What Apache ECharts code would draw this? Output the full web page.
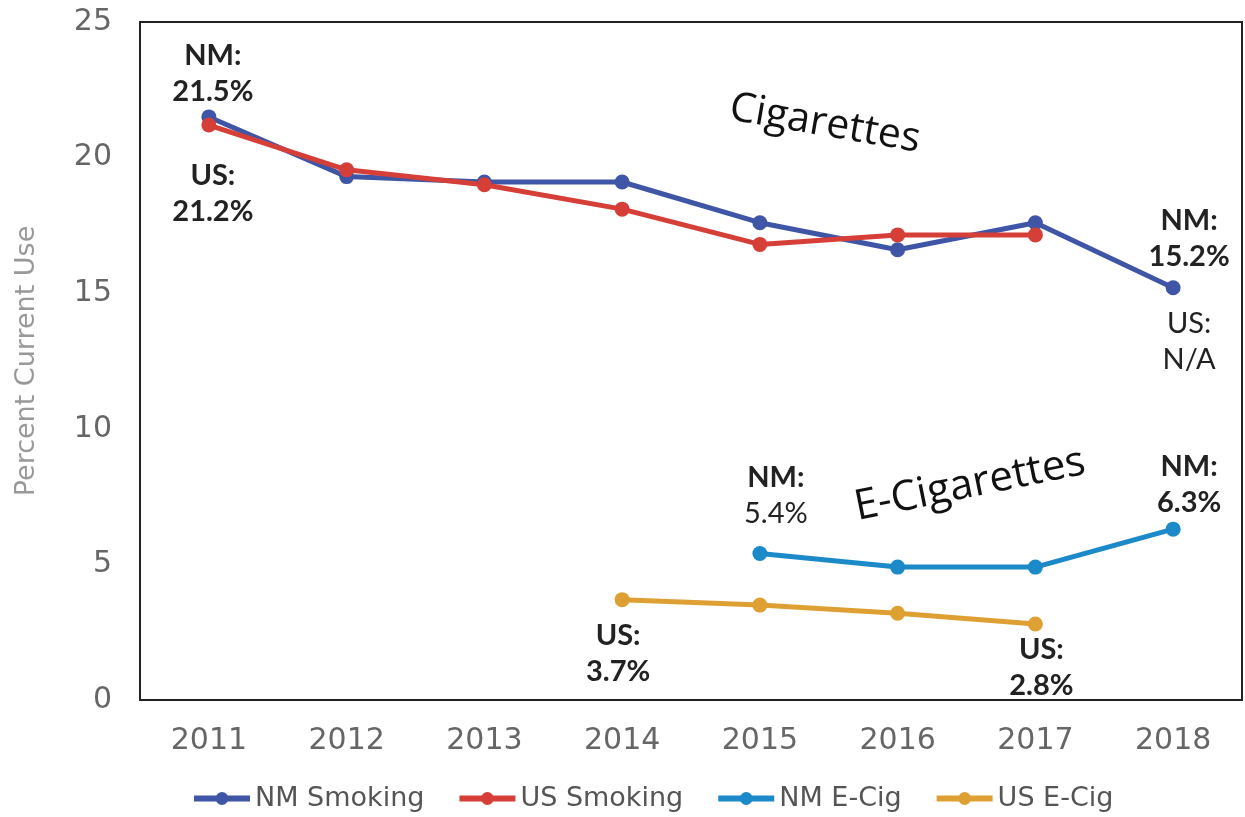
<!DOCTYPE html>
<html>
<head>
<meta charset="utf-8">
<script src="https://cdn.jsdelivr.net/npm/echarts@6/dist/echarts.min.js"></script>
<style>html,body{margin:0;padding:0;background:#fff}#c{width:1245px;height:817px}</style>
</head>
<body>
<div id="c"></div>
<script>
const years = ['2011','2012','2013','2014','2015','2016','2017','2018'];
const nmSmoking = [21.5, 19.3, 19.1, 19.1, 17.6, 16.6, 17.6, 15.2];
const usSmoking = [21.2, 19.55, 19.0, 18.1, 16.8, 17.15, 17.15, null];
const nmEcig = [null, null, null, null, 5.4, 4.9, 4.9, 6.3];
const usEcig = [null, null, null, 3.7, 3.5, 3.2, 2.8, null];
const yTicks = [0, 5, 10, 15, 20, 25];

const boldLabel = {fontFamily:'Lato', fontWeight:'bold', fontSize:29, color:'#222', lineHeight:36};
function lbl(text, pos, dist, dx) {
  return {show:true, position:pos, distance:dist, offset:[dx,0], formatter:text,
    align:'center', fontFamily:'Lato', fontSize:29, color:'#222', lineHeight:36,
    rich: {b:boldLabel, r:{fontFamily:'Lato', fontSize:29, color:'#222', lineHeight:36}}};
}
function withLabels(arr, labels) {
  return arr.map((v,i) => labels[i] ? {value:v, label:labels[i]} : v);
}

const nmSmokingLabels = {0: lbl('{b|NM:}\n{b|21.5%}','top',0,4), 7: lbl('{b|NM:}\n{b|15.2%}','top',6,16)};
const usSmokingLabels = {0: lbl('{b|US:}\n{b|21.2%}','bottom',25,4)};
const nmEcigLabels = {4: lbl('{b|NM:}\n{r|5.4%}','top',14,16), 7: lbl('{b|NM:}\n{b|6.3%}','top',1,16)};
const usEcigLabels = {3: lbl('{b|US:}\n{b|3.7%}','bottom',10,-4), 6: lbl('{b|US:}\n{b|2.8%}','bottom',0,6)};

const chart = echarts.init(document.getElementById('c'));
function lineSeries(name, data, color) {
  return {name, type:'line', data, color, symbol:'circle', symbolSize:15,
    lineStyle:{width:5, color}, itemStyle:{color}, connectNulls:false, z:3};
}
const sNmSmoking = lineSeries('NM Smoking', withLabels(nmSmoking, nmSmokingLabels), '#3F56A6');
sNmSmoking.markPoint = {
  symbol:'circle', symbolSize:1, itemStyle:{color:'transparent'},
  data:[{coord:[7, nmSmoking[7]], value:'N/A',
    label:{show:true, position:'bottom', distance:17, offset:[16,0], formatter:'US:\nN/A',
      fontFamily:'Lato', fontSize:29, color:'#222', lineHeight:36, align:'center'}}]
};
chart.setOption({
  backgroundColor:'#fff',
  animation:false,
  grid:{left:140, right:3, top:22, bottom:117, show:true, borderColor:'#222', borderWidth:2, backgroundColor:'transparent'},
  xAxis:{type:'category', data:years, boundaryGap:true,
    axisLine:{show:false}, axisTick:{show:false},
    axisLabel:{fontFamily:'DejaVu Sans', fontSize:30, color:'#666', margin:26}},
  yAxis:{type:'value', min:yTicks[0], max:yTicks[yTicks.length-1], interval:5,
    name:'Percent Current Use', nameLocation:'middle', nameGap:100,
    nameTextStyle:{fontFamily:'DejaVu Sans', fontSize:27, color:'#999'},
    axisLine:{show:false}, axisTick:{show:false}, splitLine:{show:false},
    axisLabel:{fontFamily:'DejaVu Sans', fontSize:30, color:'#666', margin:28}},
  legend:{bottom:0, left:186, itemWidth:56, itemHeight:16, itemGap:32,
    lineStyle:{width:6}, itemStyle:{},
    textStyle:{fontFamily:'DejaVu Sans', fontSize:27, color:'#555'},
    data:['NM Smoking','US Smoking','NM E-Cig','US E-Cig']},
  graphic:[
    {type:'text', x:825, y:124, rotation:-0.17, style:{text:'Cigarettes', fontFamily:'Open Sans', fontSize:41, fill:'#111', align:'center', verticalAlign:'middle'}},
    {type:'text', x:970, y:485, rotation:0.2, style:{text:'E-Cigarettes', fontFamily:'Open Sans', fontSize:42, fill:'#111', align:'center', verticalAlign:'middle'}}
  ],
  series:[
    sNmSmoking,
    lineSeries('US Smoking', withLabels(usSmoking, usSmokingLabels), '#D63F38'),
    lineSeries('NM E-Cig', withLabels(nmEcig, nmEcigLabels), '#1C89C9'),
    lineSeries('US E-Cig', withLabels(usEcig, usEcigLabels), '#DFA033')
  ]
});
</script>
</body>
</html>
